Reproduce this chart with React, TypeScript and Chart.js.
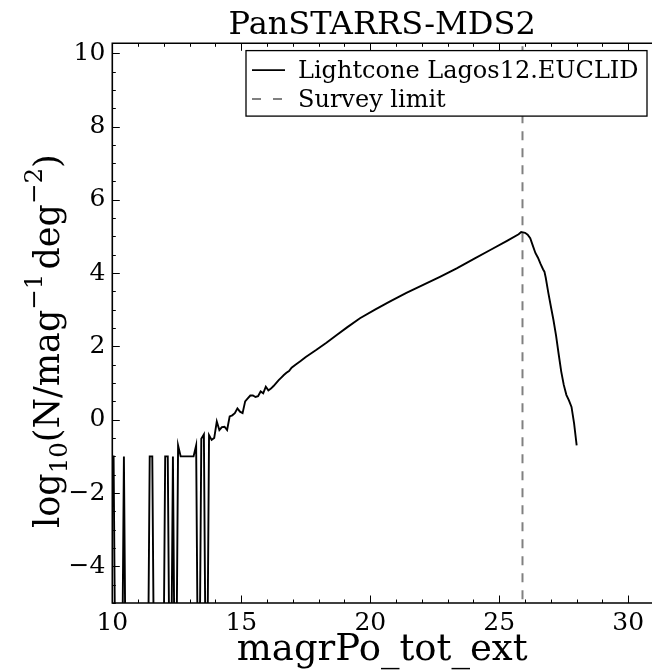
import React, { useEffect, useRef } from 'react';
import { Chart, registerables } from 'chart.js';

Chart.register(...registerables);

// ---------------- data ----------------
const EMPTY = -10; // log10 floor used for empty histogram bins (off-scale)

const MAG = [
  9.95, 10.05, 10.15, 10.35, 10.45, 10.55, 11.35, 11.45, 11.55, 11.65,
  11.95, 12.05, 12.15, 12.25, 12.35, 12.45, 12.55, 12.65, 12.75, 12.85,
  12.95, 13.05, 13.15, 13.25, 13.35, 13.45, 13.55, 13.65,
  13.75, 13.85, 13.95, 14.05, 14.15, 14.25, 14.35, 14.45, 14.55, 14.65,
  14.75, 14.85, 14.95, 15.05, 15.15, 15.25, 15.35, 15.45, 15.55, 15.65,
  15.75, 15.85, 15.95, 16.05, 16.15, 16.25, 16.35, 16.45, 16.55, 16.65,
  16.75, 16.85, 16.95, 17.1, 17.3, 17.5, 17.9, 18.3, 18.7, 19.1,
  19.6, 20.2, 20.75, 21.4, 22.05, 22.7, 23.35, 24.0, 24.65, 25.3,
  25.75, 25.85, 26.0, 26.1, 26.2, 26.3, 26.4, 26.5, 26.6, 26.7,
  26.75, 26.8, 26.9, 27.0, 27.1, 27.2, 27.3, 27.4, 27.5, 27.6,
  27.7, 27.8, 27.9, 28.0,
];

const LOG_N = [
  -1, -1, EMPTY, EMPTY, -1, EMPTY, EMPTY, -1, -1, EMPTY,
  EMPTY, -1, -1, EMPTY, -1, EMPTY, -0.7, -1, -1, -1,
  -1, -1, -1, -0.7, EMPTY, -0.52, -0.4, EMPTY,
  -0.42, -0.55, -0.5, -0.05, -0.28, -0.2, -0.19, -0.28, 0.09, 0.12,
  0.18, 0.31, 0.22, 0.18, 0.5, 0.58, 0.66, 0.66, 0.62, 0.64,
  0.77, 0.72, 0.9, 0.8, 0.85, 0.92, 1.0, 1.08, 1.15, 1.22,
  1.28, 1.33, 1.42, 1.5, 1.6, 1.71, 1.9, 2.1, 2.31, 2.52,
  2.77, 3.01, 3.22, 3.46, 3.68, 3.9, 4.13, 4.38, 4.63, 4.88,
  5.06, 5.12, 5.1, 5.05, 4.95, 4.75, 4.55, 4.42, 4.25, 4.1,
  4.04, 3.88, 3.47, 3.09, 2.72, 2.3, 1.8, 1.32, 0.95, 0.68,
  0.53, 0.35, -0.1, -0.7,
];

const SURVEY_LIMIT = 25.9;

const X_MIN = 10;
const X_MAX = 30.92;
const Y_MIN = -5;
const Y_MAX = 10.27;

const X_TICKS = [10, 15, 20, 25, 30];
const X_TICK_LABELS = ['10', '15', '20', '25', '30'];
const Y_TICKS = [-4, -2, 0, 2, 4, 6, 8, 10];
const Y_TICK_LABELS = ['\u22124', '\u22122', '0', '2', '4', '6', '8', '10'];

const TITLE = 'PanSTARRS-MDS2';
const X_LABEL = 'magrPo_tot_ext';
const SERIES_LABELS = ['Lightcone Lagos12.EUCLID', 'Survey limit'];
// y label pieces: [text, kind]  kind: n = normal, sub, sup
const Y_LABEL_PARTS: [string, string][] = [
  ['log', 'n'],
  ['10', 'sub'],
  ['(N/mag', 'n'],
  ['\u22121', 'sup'],
  ['deg', 'n'],
  ['\u22122', 'sup'],
  [')', 'n'],
];

const FONT = 'DejaVu Serif';

// ---------------- decorations ----------------
const decorPlugin = {
  id: 'decor',
  afterDatasetsDraw(chart: any) {
    const { ctx, chartArea: ca, scales } = chart;
    const xs = scales.x;
    const ys = scales.y;
    ctx.save();
    ctx.strokeStyle = '#000';
    ctx.lineWidth = 1;
    ctx.beginPath();
    for (let v = Math.ceil(X_MIN); v <= X_MAX; v += 1) {
      const px = Math.round(xs.getPixelForValue(v)) + 0.5;
      const len = X_TICKS.includes(v) ? 7.5 : 3.5;
      ctx.moveTo(px, ca.bottom);
      ctx.lineTo(px, ca.bottom - len);
      ctx.moveTo(px, ca.top);
      ctx.lineTo(px, ca.top + len);
    }
    for (let k = Math.ceil(Y_MIN * 2); k <= Y_MAX * 2; k += 1) {
      const v = k / 2;
      const py = Math.round(ys.getPixelForValue(v)) + 0.5;
      const len = Y_TICKS.includes(v) ? 7.5 : 3.5;
      ctx.moveTo(ca.left, py);
      ctx.lineTo(ca.left + len, py);
    }
    ctx.stroke();
    ctx.lineWidth = 1.6;
    ctx.beginPath();
    ctx.moveTo(ca.right + 5, ca.top);
    ctx.lineTo(ca.left, ca.top);
    ctx.lineTo(ca.left, ca.bottom);
    ctx.lineTo(ca.right + 5, ca.bottom);
    ctx.stroke();
    ctx.restore();
  },
  afterDraw(chart: any) {
    const { ctx, chartArea: ca } = chart;
    const ds = chart.data.datasets;
    ctx.save();
    // legend box
    const bx = 246;
    const by = ca.top + 7.3;
    const bw = ca.right - 5 - bx;
    const bh = 65.5;
    ctx.fillStyle = '#fff';
    ctx.fillRect(bx, by, bw, bh);
    ctx.strokeStyle = '#000';
    ctx.lineWidth = 1.3;
    ctx.strokeRect(bx, by, bw, bh);
    const rows = [by + 19.5, by + 48.5];
    ds.forEach((d: any, i: number) => {
      ctx.beginPath();
      ctx.strokeStyle = d.borderColor;
      ctx.lineWidth = d.borderWidth;
      ctx.setLineDash(i === 1 ? [9, 12] : []);
      ctx.moveTo(bx + 6, rows[i]);
      ctx.lineTo(bx + 39, rows[i]);
      ctx.stroke();
      ctx.setLineDash([]);
      ctx.fillStyle = '#000';
      ctx.font = `24px "${FONT}"`;
      ctx.textBaseline = 'alphabetic';
      ctx.textAlign = 'left';
      ctx.fillText(d.label, bx + 52, rows[i] + 8);
    });

    // y axis label with sub/superscripts
    const base = 35;
    const parts = Y_LABEL_PARTS.map(([t, k]) => {
      const size = k === 'n' ? base : base * 0.7;
      ctx.font = `${size}px "${FONT}"`;
      const w = ctx.measureText(t).width;
      const dy = k === 'sub' ? base * 0.22 : k === 'sup' ? -base * 0.5 : 0;
      return { t, size, w, dy, k };
    });
    const gap = 4;
    const total = parts.reduce((s, p) => s + p.w, 0) + gap;
    ctx.translate(59, (ca.top + ca.bottom) / 2 + 18);
    ctx.rotate(-Math.PI / 2);
    ctx.fillStyle = '#000';
    ctx.textAlign = 'left';
    ctx.textBaseline = 'alphabetic';
    let x = -total / 2;
    parts.forEach((p, i) => {
      ctx.font = `${p.size}px "${FONT}"`;
      ctx.fillText(p.t, x, p.dy);
      x += p.w;
      if (i === 3) x += gap;
    });
    ctx.restore();
  },
};

export default function App() {
  const ref = useRef<HTMLCanvasElement>(null);
  useEffect(() => {
    document.body.style.margin = '0';
    const chart = new Chart(ref.current as HTMLCanvasElement, {
      type: 'line',
      data: {
        datasets: [
          {
            label: SERIES_LABELS[0],
            data: MAG.map((m, i) => ({ x: m, y: LOG_N[i] })),
            borderColor: '#000',
            borderWidth: 1.9,
            pointRadius: 0,
            tension: 0,
            fill: false,
          },
          {
            label: SERIES_LABELS[1],
            data: [
              { x: SURVEY_LIMIT, y: Y_MIN - 5 },
              { x: SURVEY_LIMIT, y: Y_MAX + 5 },
            ],
            borderColor: '#808080',
            borderWidth: 2,
            borderDash: [9, 8],
            pointRadius: 0,
            fill: false,
          },
        ],
      } as any,
      options: {
        responsive: false,
        animation: false,
        devicePixelRatio: 1,
        layout: { padding: { left: 0, right: 0, top: 0, bottom: 0 } },
        plugins: {
          legend: { display: false },
          tooltip: { enabled: false },
          title: {
            display: true,
            text: TITLE,
            fullSize: false,
            color: '#000',
            font: { family: FONT, size: 32, lineHeight: 1, weight: 'normal' },
            padding: { top: 10, bottom: 1.3 },
          },
        },
        scales: {
          x: {
            type: 'linear',
            min: X_MIN,
            max: X_MAX,
            afterFit: (s: any) => {
              s.height = 67;
            },
            afterBuildTicks: (s: any) => {
              s.ticks = X_TICKS.map((v) => ({ value: v }));
            },
            grid: { display: false, drawTicks: false },
            border: { display: false },
            ticks: {
              color: '#000',
              font: { family: FONT, size: 25 },
              padding: 5,
              maxRotation: 0,
              autoSkip: false,
              callback: (_v: any, i: number) => X_TICK_LABELS[i],
            },
            title: {
              display: true,
              text: X_LABEL,
              color: '#000',
              font: { family: FONT, size: 37, lineHeight: 1.2 },
              padding: { top: 0, bottom: -3 },
            },
          },
          y: {
            type: 'linear',
            min: Y_MIN,
            max: Y_MAX,
            afterFit: (s: any) => {
              s.width = 112.3;
            },
            afterBuildTicks: (s: any) => {
              s.ticks = Y_TICKS.map((v) => ({ value: v }));
            },
            grid: { display: false, drawTicks: false },
            border: { display: false },
            ticks: {
              color: '#000',
              font: { family: FONT, size: 25 },
              padding: 7,
              autoSkip: false,
              callback: (_v: any, i: number) => Y_TICK_LABELS[i],
            },
          },
        },
      } as any,
      plugins: [decorPlugin],
    });
    return () => chart.destroy();
  }, []);
  return (
    <div style={{ width: 652, height: 670 }}>
      <canvas ref={ref} width={652} height={670} style={{ display: 'block' }} />
    </div>
  );
}
